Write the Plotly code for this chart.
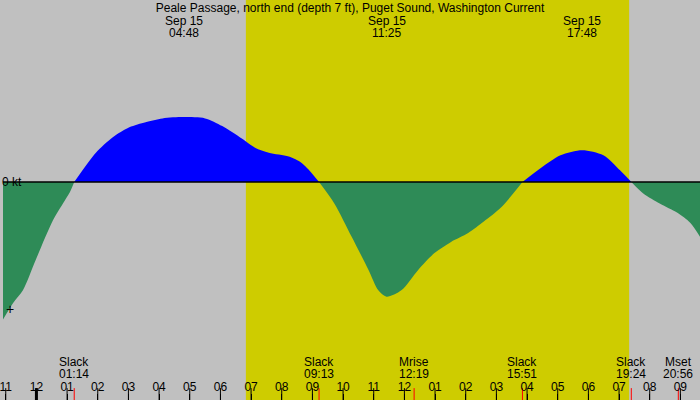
import pandas as pd
import numpy as np
import plotly.graph_objects as go

BASE = pd.Timestamp("2024-09-15 00:00")

# current speed (kt), time in hours from midnight Sep 15
hours = [-1.09, -0.76, -0.44, -0.02, 0.54, 0.86, 1.09, 1.233,
         1.94, 2.48, 3.03, 3.56, 4.11, 4.8, 5.5, 6.06, 6.71, 7.13,
         7.58, 8.23, 8.65, 8.98, 9.217,
         9.72, 10.28, 10.83, 11.15, 11.417, 11.9, 12.45, 12.97, 13.52,
         14.08, 14.59, 15.15, 15.85,
         16.45, 17.09, 17.8, 18.49, 19.04, 19.4,
         19.79, 20.34, 20.89, 21.32, 21.64]
speed = [-1.08, -0.95, -0.85, -0.61, -0.30, -0.17, -0.08, 0.0,
         0.23, 0.35, 0.43, 0.47, 0.50, 0.51, 0.50, 0.44, 0.34, 0.27,
         0.23, 0.20, 0.15, 0.07, 0.0,
         -0.17, -0.43, -0.69, -0.85, -0.90, -0.85, -0.69, -0.56, -0.47,
         -0.40, -0.31, -0.20, 0.0,
         0.11, 0.21, 0.25, 0.21, 0.09, 0.0,
         -0.09, -0.17, -0.24, -0.32, -0.43]

# max current events (top labels)
max_hours = [-1.433, 4.8, 11.417, 17.8]
max_dates = ["Sep 14", "Sep 15", "Sep 15", "Sep 15"]
max_times = ["22:34", "04:48", "11:25", "17:48"]

# bottom events
ev_hours = [1.233, 9.217, 12.317, 15.85, 19.4, 20.933]
ev_names = ["Slack", "Slack", "Mrise", "Slack", "Slack", "Mset"]
ev_times = ["01:14", "09:13", "12:19", "15:51", "19:24", "20:56"]

# hourly tick marks
hour_ticks = list(range(-1, 22))

sunrise, sunset = 6.83, 19.33
x_start, x_end = -1.09, 21.64
y_min, y_max = -1.712, 1.43


def t(h):
    return BASE + pd.to_timedelta(np.asarray(h, dtype=float), unit="h")


x = t(hours)
pos = [s if s >= 0 else None for s in speed]
neg = [s if s <= 0 else None for s in speed]

FONT = "Liberation Sans, Arial, sans-serif"
H = 400.0

fig = go.Figure()

fig.add_shape(type="rect", xref="x", yref="paper",
              x0=t([sunrise])[0], x1=t([sunset])[0], y0=0, y1=1,
              fillcolor="#CECC00", line_width=0, layer="below")

fig.add_trace(go.Scatter(x=x, y=neg, mode="lines", connectgaps=False,
                         line=dict(width=0, color="#2E8B57", shape="spline", smoothing=0.8),
                         fill="tozeroy", fillcolor="#2E8B57", hoverinfo="skip"))
fig.add_trace(go.Scatter(x=x, y=pos, mode="lines", connectgaps=False,
                         line=dict(width=0, color="#0000FF", shape="spline", smoothing=0.8),
                         fill="tozeroy", fillcolor="#0000FF", hoverinfo="skip"))

# zero line
fig.add_hline(y=0, line=dict(color="black", width=1.5))

# hourly ticks
fig.add_trace(go.Scatter(x=t(hour_ticks), y=[y_min] * len(hour_ticks), mode="markers",
                         marker=dict(symbol="line-ns", size=17,
                                     line=dict(color="black", width=1)),
                         hoverinfo="skip"))
# red event ticks at bottom edge
fig.add_trace(go.Scatter(x=t(ev_hours), y=[y_min] * len(ev_hours), mode="markers",
                         marker=dict(symbol="line-ns", size=17,
                                     line=dict(color="red", width=1)),
                         hoverinfo="skip"))
# thick midnight tick
fig.add_trace(go.Scatter(x=t([0]), y=[y_min], mode="markers",
                         marker=dict(symbol="line-ns", size=17,
                                     line=dict(color="black", width=3)),
                         hoverinfo="skip"))

# top labels
for h, d, tm in zip(max_hours, max_dates, max_times):
    for txt, ypix in ((d, 20.5), (tm, 32.5)):
        fig.add_annotation(x=t([h])[0], y=1 - ypix / H, yref="paper", yanchor="middle",
                           text=txt, showarrow=False,
                           font=dict(size=12, color="black", family=FONT))

# bottom event labels
for h, n, tm in zip(ev_hours, ev_names, ev_times):
    for txt, ypix in ((n, 362), (tm, 374)):
        fig.add_annotation(x=t([h])[0], y=1 - ypix / H, yref="paper", yanchor="middle",
                           text=txt, showarrow=False,
                           font=dict(size=12, color="black", family=FONT))

fig.add_annotation(x=0, xref="paper", xanchor="left", xshift=-3, y=0, yref="y",
                   yanchor="middle", text="0 kt", showarrow=False,
                   font=dict(size=12, color="black", family=FONT))
fig.add_annotation(x=8 / 700, xref="paper", xanchor="center", xshift=-1, y=-1, yref="y",
                   yanchor="middle", text="+", showarrow=False,
                   font=dict(size=14, color="black", family=FONT))

fig.update_layout(
    width=700, height=400,
    margin=dict(l=0, r=0, t=0, b=0),
    paper_bgcolor="#C0C0C0",
    plot_bgcolor="#C0C0C0",
    showlegend=False,
    title=dict(text="Peale Passage, north end (depth 7 ft), Puget Sound, Washington Current",
               x=0.5, xanchor="center", y=1 - 7.5 / H, yanchor="middle",
               font=dict(size=12, color="black", family=FONT)),
    font=dict(family=FONT, size=12, color="black"),
    xaxis=dict(range=[t([x_start])[0], t([x_end])[0]], type="date",
               dtick=3600000, tickformat="%I", tick0=BASE,
               ticks="inside", ticklen=6, tickcolor="black", tickwidth=1,
               ticklabelposition="inside", ticklabeloverflow="allow",
               showgrid=False, zeroline=False,
               showline=False, tickfont=dict(size=12, color="black")),
    yaxis=dict(range=[y_min, y_max], visible=False, showgrid=False),
)

fig.write_html(
    "out.html",
    config={"displayModeBar": False},
    post_script="document.body.style.margin='0';document.body.style.overflow='hidden';",
)
